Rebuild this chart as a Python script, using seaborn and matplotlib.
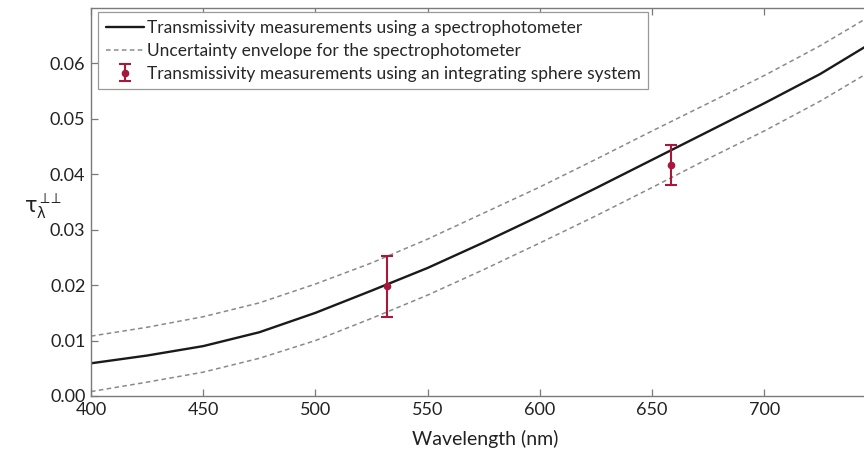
import matplotlib
matplotlib.use("Agg")
import matplotlib.pyplot as plt
import seaborn as sns
import pandas as pd

# ---- data ----
wavelength = [400, 425, 450, 475, 500, 525, 550, 575, 600, 625, 650, 675, 700, 725, 745]
tau_spectro = [0.0059, 0.0073, 0.0090, 0.0115, 0.0150, 0.0190, 0.0231, 0.0277, 0.0325, 0.0375,
               0.0426, 0.0477, 0.0528, 0.0581, 0.0630]
tau_upper = [0.0108, 0.0124, 0.0143, 0.0168, 0.0202, 0.0240, 0.0283, 0.0330, 0.0377, 0.0427,
             0.0478, 0.0528, 0.0578, 0.0632, 0.0680]
tau_lower = [0.0008, 0.0025, 0.0043, 0.0068, 0.0100, 0.0140, 0.0182, 0.0228, 0.0276, 0.0325,
             0.0376, 0.0428, 0.0478, 0.0532, 0.0580]

sphere_wl = [532, 658.5]
sphere_tau = [0.0199, 0.0416]
sphere_err_low = [0.0057, 0.0036]
sphere_err_high = [0.0054, 0.0036]

x_ticks = [400, 450, 500, 550, 600, 650, 700]
y_ticks = [0.00, 0.01, 0.02, 0.03, 0.04, 0.05, 0.06]

labels = ["Transmissivity measurements using a spectrophotometer",
          "Uncertainty envelope for the spectrophotometer",
          "Transmissivity measurements using an integrating sphere system"]

df = pd.DataFrame({"wl": wavelength, "tau": tau_spectro, "up": tau_upper, "lo": tau_lower})

sns.set_style("ticks")
plt.rcParams["font.family"] = ["Lato", "DejaVu Sans"]
plt.rcParams["mathtext.fontset"] = "dejavusans"

red = "#A8183C"
spine_c = "#7a7a7a"

fig = plt.figure(figsize=(8.64, 4.5), dpi=100)
ax = fig.add_axes([91 / 864, 1 - 396 / 450, 1 - 91 / 864, (396 - 8) / 450])

sns.lineplot(data=df, x="wl", y="up", ax=ax, color="#8a8a8a", lw=1.1, linestyle=(0, (3, 2.2)))
sns.lineplot(data=df, x="wl", y="lo", ax=ax, color="#8a8a8a", lw=1.1, linestyle=(0, (3, 2.2)))
sns.lineplot(data=df, x="wl", y="tau", ax=ax, color="#1a1a1a", lw=1.7)

eb = ax.errorbar(sphere_wl, sphere_tau, yerr=[sphere_err_low, sphere_err_high], fmt="o",
                 color=red, ms=4.5, lw=1.5, capsize=4.5, capthick=1.5, zorder=5)

h1 = ax.lines[2]
h2 = ax.lines[0]
leg = ax.legend([h1, h2, eb], labels, loc="upper left", bbox_to_anchor=(0.009, 0.99),
                borderaxespad=0, fontsize=12.5, frameon=True, fancybox=False,
                framealpha=1, edgecolor="#999999", handlelength=2.2, handletextpad=0.15,
                labelspacing=0.40, borderpad=0.45)
leg.get_frame().set_linewidth(0.9)

ax.set_xlim(400, 744.5)
ax.set_ylim(0, 0.07)
ax.set_xticks(x_ticks)
ax.set_yticks(y_ticks)
ax.set_yticklabels([f"{v:.2f}" for v in y_ticks])
ax.tick_params(axis="both", direction="in", length=5, width=0.9, color=spine_c,
               labelsize=13, labelcolor="#222222", top=True, right=False, pad=4)
for s in ["left", "bottom", "top"]:
    ax.spines[s].set_color(spine_c)
    ax.spines[s].set_linewidth(1.0)
ax.spines["right"].set_visible(False)

ax.set_xlabel("Wavelength (nm)", fontsize=14, color="#222222")
ax.xaxis.set_label_coords((485 - 91) / (864 - 91), -0.088)
ax.set_ylabel(r"$\mathrm{\tau}_\mathrm{\lambda}^{\perp\!\!\perp}$", fontsize=15, rotation=0,
              color="#222222")
ax.yaxis.set_label_coords(-0.062, 0.45)

fig.savefig("out.png", dpi=100)
